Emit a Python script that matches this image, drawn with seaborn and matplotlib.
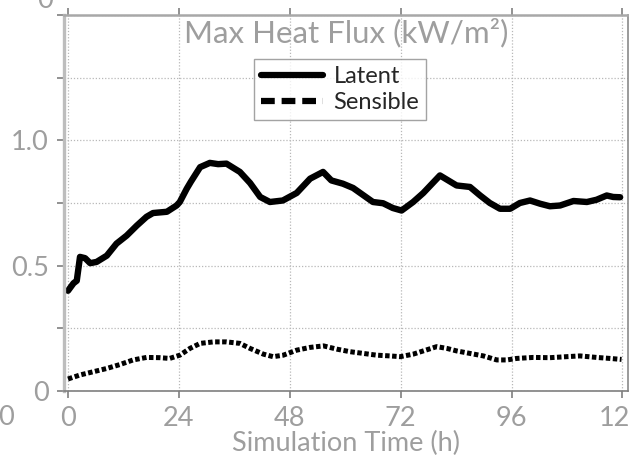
import numpy as np
import pandas as pd
import matplotlib
matplotlib.use("Agg")
import matplotlib.pyplot as plt
import seaborn as sns

# ---- data ----
latent_t = [0, 1.2, 1.9, 2.6, 3.7, 4.8, 6.2, 8.4, 10.5, 12.7, 14.9, 17.0, 18.4, 21.4,
            23.5, 24.2, 25.7, 26.6, 28.6, 30.7, 32.5, 34.3, 37.2, 39.4, 41.6, 43.7,
            46.5, 49.5, 52.4, 55.2, 57.0, 59.5, 61.7, 66.0, 68.2, 70.3, 72.2, 74.7,
            76.9, 80.5, 84.1, 87.0, 89.2, 91.3, 93.5, 95.7, 97.8, 100.0, 102.2, 104.3,
            106.5, 109.4, 112.3, 114.4, 116.6, 118.0, 119.5]
latent_v = [0.40, 0.43, 0.44, 0.535, 0.53, 0.51, 0.515, 0.54, 0.588, 0.62, 0.66, 0.695,
            0.71, 0.715, 0.74, 0.754, 0.807, 0.835, 0.893, 0.91, 0.905, 0.907, 0.874,
            0.83, 0.774, 0.754, 0.76, 0.79, 0.847, 0.874, 0.84, 0.827, 0.81, 0.754,
            0.749, 0.73, 0.72, 0.754, 0.79, 0.86, 0.82, 0.814, 0.78, 0.75, 0.727, 0.727,
            0.75, 0.76, 0.747, 0.737, 0.74, 0.758, 0.754, 0.763, 0.78, 0.774, 0.773]

sensible_t = [0, 2.6, 5.5, 8.4, 11.3, 14.1, 17.0, 19.9, 22.0, 24.2, 26.4, 28.6, 31.5,
              34.3, 37.2, 39.4, 42.3, 44.4, 46.6, 49.5, 52.4, 55.3, 58.2, 61.0, 63.9,
              66.8, 69.7, 71.9, 74.7, 76.9, 79.8, 82.0, 84.1, 87.0, 89.9, 92.8, 95.0,
              97.1, 100.7, 104.3, 107.9, 110.8, 114.4, 117.3, 119.8]
sensible_v = [0.048, 0.064, 0.077, 0.09, 0.106, 0.124, 0.134, 0.133, 0.13, 0.143, 0.17,
              0.19, 0.196, 0.196, 0.19, 0.17, 0.147, 0.137, 0.143, 0.163, 0.174, 0.18,
              0.167, 0.157, 0.15, 0.143, 0.14, 0.137, 0.147, 0.16, 0.177, 0.17, 0.16,
              0.15, 0.14, 0.124, 0.124, 0.13, 0.134, 0.133, 0.137, 0.14, 0.134, 0.13,
              0.126]

x_ticks = [0, 24, 48, 72, 96, 120]
x_tick_labels = ["0", "24", "48", "72", "96", "120"]
y_ticks = [0, 0.25, 0.5, 0.75, 1.0, 1.25, 1.5]
y_tick_labels = ["0", "", "0.5", "", "1.0", "", ""]

title_text = "Max Heat Flux (kW/m²)"
xlabel_text = "Simulation Time (h)"

# ---- style ----
sns.set_theme(style="white")
plt.rcParams["font.family"] = ["Lato", "DejaVu Sans"]

GRAY_TXT = "#9e9e9e"

fig = plt.figure(figsize=(6.29, 4.61), dpi=100)
ax = fig.add_axes([0.1017, 0.1518, 0.8967, 0.8157])

df_lat = pd.DataFrame({"t": latent_t, "v": latent_v})
df_sen = pd.DataFrame({"t": sensible_t, "v": sensible_v})

sns.lineplot(data=df_lat, x="t", y="v", ax=ax, color="black", linewidth=4.6,
             label="Latent", solid_joinstyle="round", solid_capstyle="round")
sns.lineplot(data=df_sen, x="t", y="v", ax=ax, color="black", linewidth=3.6,
             label="Sensible", dashes=(0.9, 0.5))

ax.set_xlim(-0.87, 121.2)
ax.set_ylim(0, 1.5)
ax.set_xticks(x_ticks)
ax.set_xticklabels(x_tick_labels)
ax.set_yticks(y_ticks)
ax.set_yticklabels(y_tick_labels)

ax.grid(True, which="major", linestyle=(0, (1, 1.5)), color="#b8b8b8", linewidth=0.9)

ax.tick_params(axis="both", which="major", labelsize=19.5, labelcolor=GRAY_TXT,
               direction="out", length=5, width=1.2, color="#7f7f7f", pad=6)
ax.tick_params(axis="x", which="major", top=True, bottom=True)
ax.tick_params(axis="y", left=True)

for side, col, lw in [("left", "#bdbdbd", 2.4), ("bottom", "#7f7f7f", 1.2),
                      ("top", "#a8a8a8", 1.8), ("right", "#8a8a8a", 1.2)]:
    ax.spines[side].set_color(col)
    ax.spines[side].set_linewidth(lw)

ax.set_xlabel(xlabel_text, fontsize=19.5, color=GRAY_TXT, labelpad=0)
ax.set_ylabel("")

ax.text(0.5, 0.926, title_text, transform=ax.transAxes, ha="center", va="baseline",
        fontsize=22.5, color=GRAY_TXT)

leg = ax.legend(loc="upper center", bbox_to_anchor=(0.49, 0.882), fontsize=17,
                frameon=True, fancybox=False, handlelength=2.6, handletextpad=0.45,
                borderpad=0.3, labelspacing=0.2, borderaxespad=0)
leg.get_frame().set_edgecolor("#8c8c8c")
leg.get_frame().set_linewidth(1.0)
for ln in leg.get_lines():
    ln.set_linewidth(4.5)
leg.get_lines()[1].set_dashes((2.2, 1.1))

# fragments of neighbouring panels cut off by the crop
fig.text(45 / 629, 1.0 + 12 / 461, "0", ha="center", va="top", fontsize=19.5, color=GRAY_TXT)
fig.text(6 / 629, 1 - 417 / 461, "0", ha="center", va="center", fontsize=19.5, color=GRAY_TXT)

fig.savefig("out.png", dpi=100)
